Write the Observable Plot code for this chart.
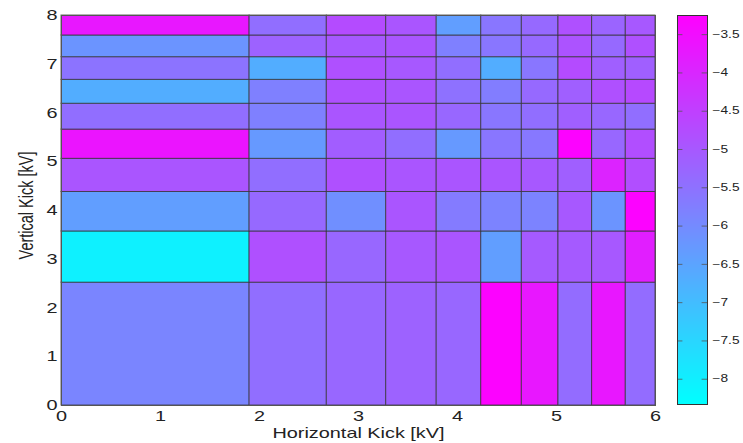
<!DOCTYPE html>
<html><head><meta charset="utf-8">
<script src="https://cdn.jsdelivr.net/npm/d3@7"></script>
<script src="https://cdn.jsdelivr.net/npm/@observablehq/plot@0.6"></script>
<style>
body{margin:0;background:#fff}
#c{position:relative;width:743px;height:443px}
#c svg{position:absolute;left:0;top:0;overflow:visible}
</style>
</head><body><div id="c"></div>
<script>
// Cell edges (kV)
const xEdges = [0, 1.9, 2.68, 3.28, 3.79, 4.24, 4.65, 5.02, 5.36, 5.70, 6];
const yEdges = [0, 2.52, 3.57, 4.38, 5.06, 5.66, 6.19, 6.68, 7.145, 7.59, 8];
// Values per row, bottom row first, columns left to right
const row0 = [-5.9, -5.45, -5.3, -5.2, -5.3, -3.3, -3.7, -5.4, -3.7, -5.4];
const row1 = [-8.05, -4.85, -5.3, -5.0, -4.95, -6.4, -5.05, -5.05, -5.0, -3.85];
const row2 = [-6.4, -5.35, -6.1, -4.95, -5.7, -5.85, -5.85, -5.0, -6.2, -3.3];
const row3 = [-4.95, -5.45, -4.85, -4.95, -4.95, -4.95, -5.0, -5.15, -3.95, -4.8];
const row4 = [-3.65, -6.3, -5.1, -5.45, -6.3, -5.6, -5.65, -3.3, -5.3, -4.8];
const row5 = [-5.45, -5.8, -4.95, -4.95, -5.3, -5.6, -5.45, -5.15, -5.3, -5.45];
const row6 = [-6.7, -5.8, -4.85, -4.95, -5.5, -5.75, -5.35, -5.15, -4.85, -4.7];
const row7 = [-5.55, -6.7, -4.85, -5.0, -5.45, -6.7, -5.6, -4.75, -5.15, -5.15];
const row8 = [-6.2, -5.2, -5.0, -4.95, -5.8, -5.6, -5.35, -4.9, -5.35, -4.85];
const row9 = [-3.7, -5.45, -4.75, -4.95, -6.4, -5.6, -5.35, -4.85, -5.25, -5.0];
const xTicks = [0, 1, 2, 3, 4, 5, 6];
const yTicks = [0, 1, 2, 3, 4, 5, 6, 7, 8];
const cTicks = [-8, -7.5, -7, -6.5, -6, -5.5, -5, -4.5, -4, -3.5];
const cDomain = [-8.33, -3.25];

const rows = [row0, row1, row2, row3, row4, row5, row6, row7, row8, row9];
const cells = [];
rows.forEach((r, i) => r.forEach((v, j) => cells.push({
  x1: xEdges[j], x2: xEdges[j + 1], y1: yEdges[i], y2: yEdges[i + 1], v
})));

const font = '"Liberation Sans", Arial, Helvetica, sans-serif';
const color = {type: "linear", domain: cDomain, range: ["#00ffff", "#ff00ff"], interpolate: "rgb"};
const fs = 14.5;

const main = Plot.plot({
  width: 743, height: 443,
  marginLeft: 61, marginRight: 88, marginTop: 15, marginBottom: 38,
  style: {fontFamily: font, fontSize: fs + "px", color: "#222", background: "transparent"},
  x: {domain: [0, 6], axis: null},
  y: {domain: [0, 8], axis: null},
  color,
  marks: [
    Plot.rect(cells, {x1: "x1", x2: "x2", y1: "y1", y2: "y2", fill: "v", stroke: "#333", strokeOpacity: 0.75, strokeWidth: 1}),
    Plot.frame({stroke: "#555", strokeWidth: 1}),
    Plot.axisX({ticks: xTicks, tickSize: 0, tickPadding: 5, label: null, tickFormat: d3.format("~g"), fontSize: fs}),
    Plot.axisY({ticks: yTicks, tickSize: 0, tickPadding: 4, label: null, tickFormat: d3.format("~g"), fontSize: fs}),
    Plot.text(["Horizontal Kick [kV]"], {frameAnchor: "bottom", textAnchor: "middle", dy: 32, fontSize: fs, fill: "#222"}),
    Plot.text(["Vertical Kick [kV]"], {frameAnchor: "left", textAnchor: "middle", lineAnchor: "middle", dx: -35, dy: -5, rotate: -90, fontSize: fs, fill: "#222"})
  ]
});

const step = 0.01;
const ramp = d3.range(cDomain[0], cDomain[1], step);
const bar = Plot.plot({
  width: 743, height: 443,
  marginLeft: 677, marginRight: 36, marginTop: 15, marginBottom: 39,
  style: {fontFamily: font, fontSize: "10px", color: "#222", background: "transparent"},
  x: {domain: [0, 1], axis: null},
  y: {domain: cDomain, axis: null},
  color,
  marks: [
    Plot.rect(ramp, {x1: 0, x2: 1, y1: d => d, y2: d => Math.min(d + step * 1.5, cDomain[1]), fill: d => d, shapeRendering: "crispEdges"}),
    Plot.ruleY(cTicks, {x1: 0, x2: 0.18, stroke: "#555", strokeWidth: 0.8}),
    Plot.ruleY(cTicks, {x1: 0.82, x2: 1, stroke: "#555", strokeWidth: 0.8}),
    Plot.frame({stroke: "#333", strokeWidth: 1}),
    Plot.axisY({anchor: "right", ticks: cTicks, tickSize: 0, tickPadding: 5, label: null, tickFormat: d3.format("~g"), fontSize: 10})
  ]
});

const c = document.getElementById("c");
c.appendChild(main);
c.appendChild(bar);

// The reference is rendered horizontally stretched: widen glyphs about their anchors
const SX = 1.37;
for (const t of c.querySelectorAll("text")) {
  const tr = t.getAttribute("transform") || "";
  if (/rotate\(-90\)/.test(tr)) t.setAttribute("transform", tr + ` scale(1,${SX})`);
  else if (/translate/.test(tr)) t.setAttribute("transform", tr + ` scale(${SX},1)`);
}
</script>
</body></html>
